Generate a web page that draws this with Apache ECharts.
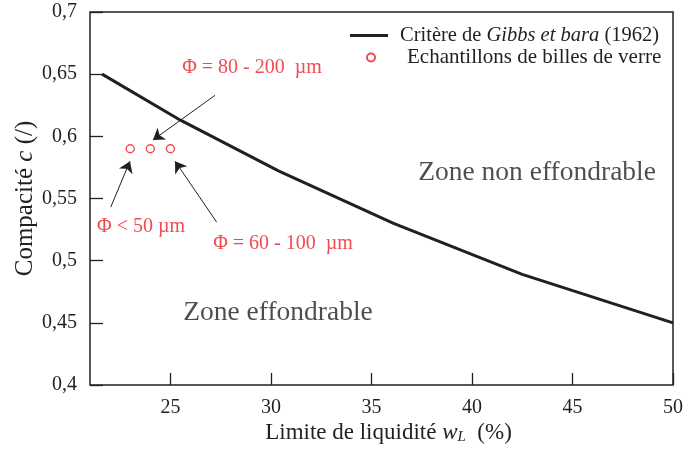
<!DOCTYPE html>
<html>
<head>
<meta charset="utf-8">
<script src="https://cdn.jsdelivr.net/npm/echarts@6/dist/echarts.min.js"></script>
<style>
  html, body { margin: 0; padding: 0; background: #fff; }
  #main { width: 685px; height: 450px; }
</style>
</head>
<body>
<div id="main"></div>
<script>
// critère de Gibbs et Bara (1962)
var criterionWL = [21.6, 25.5, 30.4, 36.1, 42.5, 50];
var criterionC = [0.65, 0.613, 0.572, 0.530, 0.489, 0.45];

// échantillons de billes de verre
var sampleWL = [23, 24, 25];
var sampleC = [0.59, 0.59, 0.59];

// ticks
var xTicks = [25, 30, 35, 40, 45, 50];
var yTicks = [0.4, 0.45, 0.5, 0.55, 0.6, 0.65, 0.7];
var yTickLabels = ['0,4', '0,45', '0,5', '0,55', '0,6', '0,65', '0,7'];

// annotations (data coords)
var noteText = ['Φ = 80 - 200  µm', 'Φ < 50 µm', 'Φ = 60 - 100  µm'];
var noteX = [29.06, 23.54, 30.6];
var noteY = [0.655, 0.527, 0.514];
var arrowFromX = [27.22, 22.03, 27.30];
var arrowFromY = [0.633, 0.543, 0.531];
var arrowToX = [24.13, 22.99, 25.23];
var arrowToY = [0.597, 0.580, 0.580];

var zoneText = ['Zone non effondrable', 'Zone effondrable'];
var zoneX = [43.24, 30.35];
var zoneY = [0.571, 0.458];

var FONT = 'Liberation Serif';
var INK = '#231f20';
var RED = '#ed1c24';

var lineData = criterionWL.map(function (w, i) { return [w, criterionC[i]]; });
var sampleData = sampleWL.map(function (w, i) { return [w, sampleC[i]]; });

var arrows = [];
for (var i = 0; i < arrowFromX.length; i++) {
    arrows.push([{coord: [arrowFromX[i], arrowFromY[i]]}, {coord: [arrowToX[i], arrowToY[i]]}]);
}
var notes = noteText.map(function (t, i) { return {value: [noteX[i], noteY[i]], name: t}; });
var zones = zoneText.map(function (t, i) { return {value: [zoneX[i], zoneY[i]], name: t}; });

var nameCrit = 'Critère de Gibbs et bara (1962)';
var nameSample = 'Echantillons de billes de verre';

var myChart = echarts.init(document.getElementById('main'));
myChart.setOption({
    animation: false,
    grid: {
        left: 90, right: 12, top: 12, bottom: 65,
        outerBoundsMode: 'none',
        show: true, borderColor: INK, borderWidth: 1.5
    },
    legend: [
        {
            data: [{name: nameCrit, icon: 'rect'}],
            left: 350, top: 25, padding: 0,
            itemWidth: 38, itemHeight: 3,
            formatter: function () { return '{n|Critère de }{i|Gibbs et bara}{n| (1962)}'; },
            textStyle: {
                padding: [0, 0, 0, 7],
                rich: {
                    n: {fontFamily: FONT, fontSize: 20.5, color: INK},
                    i: {fontFamily: FONT, fontSize: 20.5, color: INK, fontStyle: 'italic'}
                }
            }
        },
        {
            data: [nameSample],
            left: 366, top: 47, padding: 0,
            itemWidth: 38, itemHeight: 8,
            formatter: function (n) { return '{p|}{n|' + n + '}'; },
            textStyle: {
                rich: {
                    p: {width: 12},
                    n: {fontFamily: FONT, fontSize: 21, color: INK}
                }
            }
        }
    ],
    xAxis: {
        type: 'value',
        min: 21, max: 50,
        name: '{n|Limite de liquidité }{i|w}{s|L}{n|  (%)}',
        nameLocation: 'middle',
        nameGap: 36,
        nameMoveOverlap: false,
        nameTextStyle: {
            padding: [0, 0, 0, 14],
            rich: {
                n: {fontFamily: FONT, fontSize: 23, color: INK},
                i: {fontFamily: FONT, fontSize: 23, color: INK, fontStyle: 'italic'},
                s: {fontFamily: FONT, fontSize: 15, color: INK, fontStyle: 'italic', padding: [9, 0, 0, 0]}
            }
        },
        splitLine: {show: false},
        axisLine: {show: false},
        axisTick: {show: true, inside: true, length: 12, customValues: xTicks,
            lineStyle: {color: INK, width: 1.3}},
        axisLabel: {customValues: xTicks, margin: 13, fontFamily: FONT, fontSize: 20, color: INK}
    },
    yAxis: {
        type: 'value',
        min: 0.4, max: 0.7,
        name: '{n|Compacité }{i|c}{n| (/)}',
        nameLocation: 'middle',
        nameRotate: 90,
        nameGap: 52,
        nameMoveOverlap: false,
        nameTextStyle: {
            rich: {
                n: {fontFamily: FONT, fontSize: 25, color: INK},
                i: {fontFamily: FONT, fontSize: 25, color: INK, fontStyle: 'italic'}
            }
        },
        splitLine: {show: false},
        axisLine: {show: false},
        axisTick: {show: true, inside: true, length: 13, customValues: yTicks,
            lineStyle: {color: INK, width: 1.3}},
        axisLabel: {
            customValues: yTicks, margin: 13, fontFamily: FONT, fontSize: 20, color: INK,
            formatter: function (v) {
                var k = yTicks.findIndex(function (t) { return Math.abs(t - v) < 1e-6; });
                return k >= 0 ? yTickLabels[k] : '';
            }
        }
    },
    series: [
        {
            name: nameCrit,
            type: 'line',
            data: lineData,
            symbol: 'none',
            lineStyle: {color: INK, width: 3},
            itemStyle: {color: INK},
            z: 3
        },
        {
            name: nameSample,
            type: 'scatter',
            data: sampleData,
            symbol: 'circle',
            symbolSize: 8,
            itemStyle: {color: '#fff', borderColor: RED, borderWidth: 1.4},
            z: 4
        },
        {
            name: 'arrows',
            type: 'line',
            data: [],
            silent: true,
            markLine: {
                silent: true,
                symbol: ['none', 'arrow'],
                symbolSize: 11,
                label: {show: false},
                lineStyle: {color: INK, width: 1, type: 'solid'},
                emphasis: {disabled: true},
                data: arrows
            }
        },
        {
            name: 'notes',
            type: 'scatter',
            data: notes,
            symbolSize: 0,
            silent: true,
            label: {show: true, position: 'inside', formatter: '{b}',
                fontFamily: FONT, fontSize: 20, color: RED}
        },
        {
            name: 'zones',
            type: 'scatter',
            data: zones,
            symbolSize: 0,
            silent: true,
            label: {show: true, position: 'inside', formatter: '{b}',
                fontFamily: FONT, fontSize: 27.5, color: INK}
        }
    ]
});
</script>
</body>
</html>
